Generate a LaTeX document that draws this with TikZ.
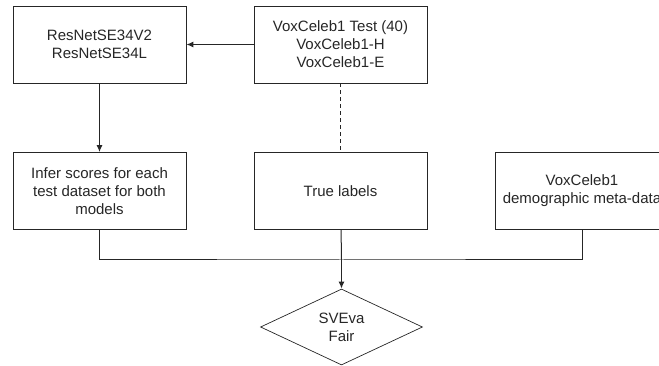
\documentclass[tikz,border=0pt]{standalone}
\usepackage{fontspec}
\setmainfont{Liberation Sans}
\usetikzlibrary{shapes.geometric,arrows.meta}

\tikzset{
    stage/.style={draw=black!85, line width=0.9pt, minimum width=173pt, minimum height=77pt,
        align=center, font=\fontsize{15}{18}\selectfont, text=black!85, inner sep=1pt},
    wire/.style={line width=1pt, black!85},
    flow/.style={wire, -{Latex[length=7pt,width=6pt]}}
}

\begin{document}
\begin{tikzpicture}[x=1pt, y=-1pt]
    \useasboundingbox (0,0) rectangle (659,366);
    \clip (0,0) rectangle (659,366);

    % Top row
    \node[stage] (models) at (99.5, 44.5) {ResNetSE34V2\\ResNetSE34L};
    \node[stage] (testsets) at (340.5, 44.5) {VoxCeleb1 Test (40)\\VoxCeleb1-H\\VoxCeleb1-E};

    % Middle row
    \node[stage] (infer) at (99.5, 191) {Infer scores for each\\test dataset for both\\models};
    \node[stage] (labels) at (340.5, 191) {True labels};
    \node[stage] (meta) at (582, 191) {VoxCeleb1\\demographic meta-data};

    % Evaluation
    \node[draw=black!85, line width=0.7pt, diamond, minimum width=162pt, minimum height=76pt,
        inner sep=0pt, align=center, font=\fontsize{15}{18}\selectfont, text=black!85]
        (fair) at (341.5, 327) {SVEva\\Fair};

    \coordinate (merge) at (341.5, 260);

    % Connectors
    \draw[flow] (testsets) -- (models);
    \draw[flow] (models) -- (infer);
    \draw[wire, dash pattern=on 4pt off 3pt] (testsets) -- (labels);
    \draw[wire] (infer.south) |- (merge) -| (meta.south);
    \draw[wire] (labels) -- (merge);
    \draw[flow, line width=1.5pt] (merge) -- (fair.north);
\end{tikzpicture}
\end{document}
